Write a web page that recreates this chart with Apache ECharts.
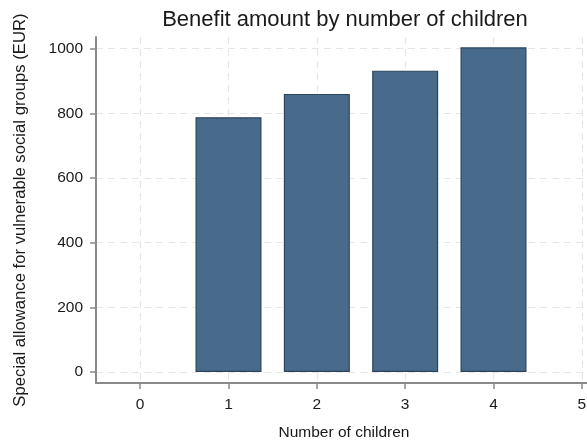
<!DOCTYPE html>
<html>
<head>
<meta charset="utf-8">
<script src="https://cdn.jsdelivr.net/npm/echarts@6/dist/echarts.min.js"></script>
<style>
  html, body { margin: 0; padding: 0; background: #fff; }
  #chart { width: 587px; height: 441px; }
</style>
</head>
<body>
<div id="chart"></div>
<script>
// Number of children and the monthly special allowance paid for each
const children = [1, 2, 3, 4];
const allowance = [788, 860, 932, 1004];
const xTicks = [0, 1, 2, 3, 4, 5];
const yTicks = [0, 200, 400, 600, 800, 1000];

const titleText = 'Benefit amount by number of children';
const xTitle = 'Number of children';
const yTitle = 'Special allowance for vulnerable social groups (EUR)';

const font = '"Liberation Sans", Arial, sans-serif';
const axisGray = '#8a8a8a';
const gridGray = '#e6e6e6';
const textColor = '#1a1a1a';

const chart = echarts.init(document.getElementById('chart'), null, { renderer: 'canvas' });

chart.setOption({
  animation: false,
  backgroundColor: '#ffffff',
  textStyle: { fontFamily: font },
  grid: {
    left: 96, top: 37, width: 530, bottom: 58,
    containLabel: false, outerBoundsMode: 'none'
  },
  graphic: [
    {
      type: 'text',
      x: 345, y: 20,
      style: {
        text: titleText, font: '22px ' + font, fill: textColor,
        textAlign: 'center', textVerticalAlign: 'middle'
      }
    },
    {
      type: 'text',
      x: 344, y: 433,
      style: {
        text: xTitle, font: '15.5px ' + font, fill: textColor,
        textAlign: 'center', textVerticalAlign: 'middle'
      }
    }
  ],
  xAxis: {
    type: 'value',
    min: -0.5,
    max: 5.5,
    axisLine: { show: true, onZero: false, lineStyle: { color: axisGray, width: 2 } },
    axisTick: { show: true, length: 6, customValues: xTicks, lineStyle: { color: axisGray, width: 1.5 } },
    axisLabel: {
      customValues: xTicks, margin: 14, fontSize: 15.5, color: textColor, fontFamily: font,
      formatter: v => String(v)
    },
    splitLine: { show: true, lineStyle: { color: gridGray, width: 1.2, type: [7, 5] } }
  },
  yAxis: {
    type: 'value',
    min: -34,
    max: 1036,
    name: yTitle,
    nameLocation: 'middle',
    nameGap: 67,
    nameTextStyle: { fontSize: 16.7, color: textColor, fontFamily: font },
    axisLine: { show: true, onZero: false, lineStyle: { color: axisGray, width: 2 } },
    axisTick: { show: true, length: 6, customValues: yTicks, lineStyle: { color: axisGray, width: 1.5 } },
    axisLabel: {
      customValues: yTicks, margin: 13, fontSize: 15.5, color: textColor, fontFamily: font,
      formatter: v => String(v)
    },
    splitLine: { show: true, lineStyle: { color: gridGray, width: 1.2, type: [7, 5] } }
  },
  series: [
    {
      type: 'bar',
      data: children.map((c, i) => [c, allowance[i]]),
      barWidth: 66,
      itemStyle: { color: '#486a8b', borderColor: '#2c455c', borderWidth: 1.2 }
    }
  ]
});
</script>
</body>
</html>
